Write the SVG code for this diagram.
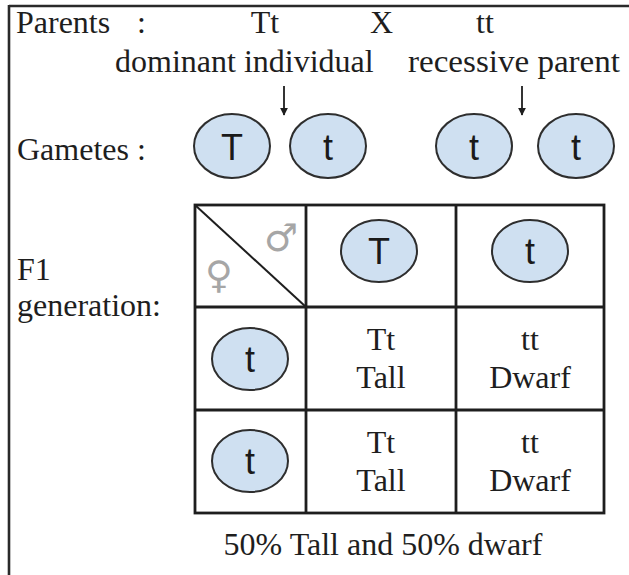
<svg xmlns="http://www.w3.org/2000/svg" width="629" height="575" viewBox="0 0 629 575">
  <defs>
    <style>
      .lbl { font-family: "Liberation Serif", "Times New Roman", serif; font-size: 32px; fill: #1e1e1e; }
      .mid { text-anchor: middle; }
      .gam { fill: #cfe0f1; stroke: #2e2e2e; stroke-width: 2; }
      .allele { font-family: "Liberation Sans", Arial, sans-serif; font-size: 36px; fill: #1a1a1a; text-anchor: middle; }
      .grid { stroke: #1e1e1e; stroke-width: 2.8; fill: none; }
      .sex { font-family: "DejaVu Sans", sans-serif; font-size: 38px; fill: #a6a6a6; text-anchor: middle; }
    </style>
    <marker id="head" viewBox="0 0 10 10" refX="9" refY="5" markerWidth="8" markerHeight="8" markerUnits="userSpaceOnUse" orient="auto">
      <path d="M0,0 L10,5 L0,10 Z" fill="#1e1e1e"/>
    </marker>
  </defs>

  <rect width="629" height="575" fill="#ffffff"/>

  <!-- frame: top and left edges -->
  <g id="frame" stroke="#2a2a2a" stroke-width="2.6" fill="none">
    <line x1="9" y1="6" x2="629" y2="6"/>
    <line x1="9" y1="5" x2="9" y2="575"/>
  </g>

  <!-- cross of parents -->
  <g id="parents">
    <text class="lbl" x="16" y="33">Parents</text>
    <text class="lbl" x="137" y="33">:</text>
    <text class="lbl mid" x="265" y="33">Tt</text>
    <text class="lbl" x="370" y="33">X</text>
    <text class="lbl mid" x="485" y="33">tt</text>
    <text class="lbl" x="115" y="72">dominant individual</text>
    <text class="lbl" x="408" y="72" textLength="212" lengthAdjust="spacingAndGlyphs">recessive parent</text>
  </g>

  <g id="connectors" stroke="#1e1e1e" stroke-width="1.8" fill="none">
    <line x1="284" y1="86" x2="284" y2="115" marker-end="url(#head)"/>
    <line x1="522" y1="86" x2="522" y2="115" marker-end="url(#head)"/>
  </g>

  <!-- gametes -->
  <g id="gametes">
    <text class="lbl" x="17" y="160">Gametes :</text>
    <g id="gamete-T1">
      <ellipse class="gam" cx="232" cy="146" rx="38" ry="32"/>
      <text class="allele" x="232" y="160">T</text>
    </g>
    <g id="gamete-t1">
      <ellipse class="gam" cx="328" cy="146" rx="38" ry="32"/>
      <text class="allele" x="328" y="160">t</text>
    </g>
    <g id="gamete-t2">
      <ellipse class="gam" cx="474" cy="146" rx="38" ry="32"/>
      <text class="allele" x="474" y="160">t</text>
    </g>
    <g id="gamete-t3">
      <ellipse class="gam" cx="576" cy="146" rx="38" ry="32"/>
      <text class="allele" x="576" y="160">t</text>
    </g>
  </g>

  <!-- F1 label -->
  <g id="f1-label">
    <text class="lbl" x="17" y="280">F1</text>
    <text class="lbl" x="17" y="316">generation:</text>
  </g>

  <!-- Punnett square -->
  <g id="punnett">
    <rect class="grid" x="195" y="205" width="409" height="308"/>
    <line class="grid" x1="306" y1="205" x2="306" y2="513"/>
    <line class="grid" x1="456" y1="205" x2="456" y2="513"/>
    <line class="grid" x1="195" y1="307" x2="604" y2="307"/>
    <line class="grid" x1="195" y1="410" x2="604" y2="410"/>
    <line x1="195" y1="205" x2="306" y2="307" stroke="#1e1e1e" stroke-width="2"/>
    <text class="sex" x="281" y="251">♂</text>
    <text class="sex" x="219" y="288">♀</text>
  </g>

  <g id="male-T">
    <ellipse class="gam" cx="379" cy="251" rx="38" ry="31"/>
    <text class="allele" x="379" y="264">T</text>
  </g>
  <g id="male-t">
    <ellipse class="gam" cx="530" cy="251" rx="38" ry="31"/>
    <text class="allele" x="530" y="264">t</text>
  </g>
  <g id="female-t1">
    <ellipse class="gam" cx="250" cy="359" rx="38" ry="31"/>
    <text class="allele" x="250" y="372">t</text>
  </g>
  <g id="female-t2">
    <ellipse class="gam" cx="250" cy="461" rx="38" ry="31"/>
    <text class="allele" x="250" y="474">t</text>
  </g>

  <g id="cell-Tt-1">
    <text class="lbl mid" x="381" y="350">Tt</text>
    <text class="lbl mid" x="381" y="388">Tall</text>
  </g>
  <g id="cell-tt-1">
    <text class="lbl mid" x="530" y="350">tt</text>
    <text class="lbl mid" x="530" y="388">Dwarf</text>
  </g>
  <g id="cell-Tt-2">
    <text class="lbl mid" x="381" y="453">Tt</text>
    <text class="lbl mid" x="381" y="491">Tall</text>
  </g>
  <g id="cell-tt-2">
    <text class="lbl mid" x="530" y="453">tt</text>
    <text class="lbl mid" x="530" y="491">Dwarf</text>
  </g>

  <g id="ratio">
    <text class="lbl mid" x="383" y="555">50% Tall and 50% dwarf</text>
  </g>
</svg>
